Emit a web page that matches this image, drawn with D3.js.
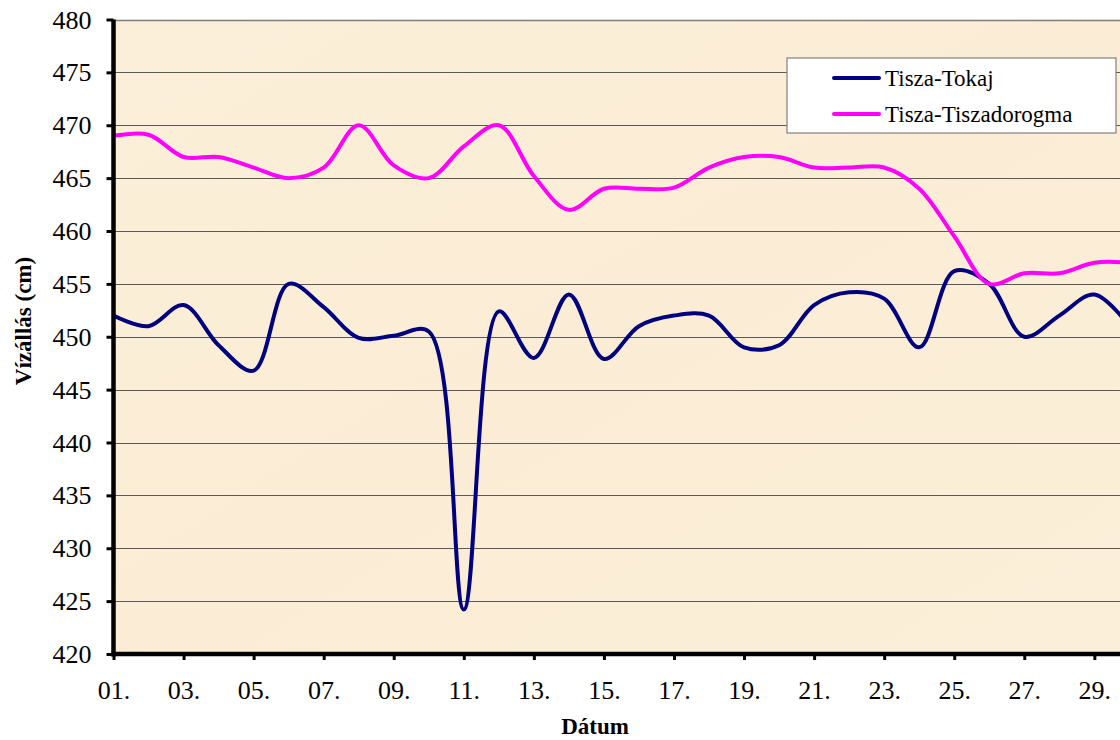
<!DOCTYPE html>
<html><head><meta charset="utf-8">
<script src="https://cdn.jsdelivr.net/npm/d3@7/dist/d3.min.js"></script>
<style>body{margin:0;background:#fff;overflow:hidden}</style>
</head><body>
<svg id="c" width="1120" height="740"></svg>
<script>
const days = [1,2,3,4,5,6,7,8,9,10,11,12,13,14,15,16,17,18,19,20,21,22,23,24,25,26,27,28,29,30];
const tokaj = [452.0,451.0,453.0,449.2,446.8,455.0,452.8,449.9,450.1,450.5,424.2,452.4,448.0,454.0,447.9,451.0,452.0,452.0,449.0,449.2,453.0,454.2,453.6,449.0,456.2,455.0,450.0,452.0,454.0,451.0];
const tiszadorogma = [469.0,469.1,467.0,467.0,466.0,465.0,466.0,470.0,466.2,465.0,468.0,470.0,465.2,462.0,464.0,464.0,464.1,466.0,467.0,467.0,466.0,466.0,466.0,464.0,459.5,455.0,456.0,456.0,457.0,457.0];
const seriesNames = ["Tisza-Tokaj","Tisza-Tiszadorogma"];
const seriesColors = ["#000080","#FF00FF"];
const yTicks = [420,425,430,435,440,445,450,455,460,465,470,475,480];
const xTickDays = [1,3,5,7,9,11,13,15,17,19,21,23,25,27,29];
const xTickLabels = ["01.","03.","05.","07.","09.","11.","13.","15.","17.","19.","21.","23.","25.","27.","29."];
const yTitle = "Vízállás (cm)";
const xTitle = "Dátum";

(function(){
const svg = d3.select("#c");
const FF = "Liberation Serif";
const pL = 113.5, pR = 1120, pT = 19.5, pB = 654;
const x = d3.scaleLinear().domain([1,30]).range([pL, pL + 29*35.03]);
const y = d3.scaleLinear().domain([420,480]).range([pB, pT]);

const defs = svg.append("defs");
const grad = defs.append("linearGradient").attr("id","bg").attr("x1","0").attr("y1","0").attr("x2","1").attr("y2","1");
grad.append("stop").attr("offset","0").attr("stop-color","#FBEFD9");
grad.append("stop").attr("offset","0.5").attr("stop-color","#FBEDD5");
grad.append("stop").attr("offset","1").attr("stop-color","#FBEFD9");

svg.append("rect").attr("x", pL).attr("y", pT).attr("width", pR-pL).attr("height", pB-pT).attr("fill", "url(#bg)");

defs.append("clipPath").attr("id","clip")
  .append("rect").attr("x", pL).attr("y", pT-3).attr("width", pR-pL).attr("height", pB-pT+3);

svg.append("g").selectAll("line").data(yTicks.filter(v => v>420)).join("line")
  .attr("x1", pL).attr("x2", pR)
  .attr("y1", d => Math.round(y(d))+0.5).attr("y2", d => Math.round(y(d))+0.5)
  .attr("stroke", d => d===480 ? "#808080" : "#5a5a5a").attr("stroke-width", d => d===480 ? 1.5 : 1);

const line = d3.line().x((d,i) => x(days[i])).y(d => y(d)).curve(d3.curveCatmullRom.alpha(0.5));
const g = svg.append("g").attr("clip-path","url(#clip)");
[tokaj, tiszadorogma].forEach((s, k) => {
  g.append("path").datum(s).attr("d", line).attr("fill","none")
    .attr("stroke", seriesColors[k]).attr("stroke-width", 4).attr("stroke-linejoin","round").attr("stroke-linecap","round");
});

const yAxis = d3.axisLeft(y).tickValues(yTicks).tickSize(7).tickPadding(15).tickFormat(d3.format("d"));
const ya = svg.append("g").attr("transform", `translate(${pL},0)`).call(yAxis);
ya.attr("font-family", FF).attr("font-size", 26);
ya.select(".domain").remove();
ya.selectAll(".tick line").attr("stroke","#000").attr("stroke-width",3);
ya.selectAll(".tick text").attr("font-family", FF).attr("font-size", 26).attr("fill","#000").attr("dy","0.33em");
svg.append("line").attr("x1", pL).attr("x2", pL).attr("y1", pT).attr("y2", pB+2.5)
  .attr("stroke","#000").attr("stroke-width",4.5);

const xAxis = d3.axisBottom(x).tickValues(xTickDays).tickSize(6).tickPadding(21).tickFormat((d,i) => xTickLabels[i]);
const xa = svg.append("g").attr("transform", `translate(0,${pB})`).call(xAxis);
xa.attr("font-family", FF).attr("font-size", 26);
xa.select(".domain").remove();
xa.selectAll(".tick line").attr("stroke","#000").attr("stroke-width",3);
xa.selectAll(".tick text").attr("font-family", FF).attr("font-size", 26).attr("fill","#000");
svg.append("line").attr("x1", pL-2.25).attr("x2", pR).attr("y1", pB).attr("y2", pB)
  .attr("stroke","#000").attr("stroke-width",4.5);

svg.append("text").attr("x", 595).attr("y", 734).attr("text-anchor","middle")
  .attr("font-family", FF).attr("font-weight","bold").attr("font-size", 23).text(xTitle);
svg.append("text").attr("transform","translate(31,321) rotate(-90)").attr("text-anchor","middle")
  .attr("font-family", FF).attr("font-weight","bold").attr("font-size", 23).text(yTitle);

const lg = svg.append("g");
lg.append("rect").attr("x", 787).attr("y", 58).attr("width", 329).attr("height", 75)
  .attr("fill","#fff").attr("stroke","#808080").attr("stroke-width",1.2);
const ly = [78, 114];
seriesNames.forEach((n,k) => {
  lg.append("line").attr("x1", 834).attr("x2", 879).attr("y1", ly[k]).attr("y2", ly[k])
    .attr("stroke", seriesColors[k]).attr("stroke-width", 4).attr("stroke-linecap","round");
  lg.append("text").attr("x", 885).attr("y", ly[k]).attr("dy","0.33em")
    .attr("font-family", FF).attr("font-size", 23).text(n);
});
})();
</script>
</body></html>
